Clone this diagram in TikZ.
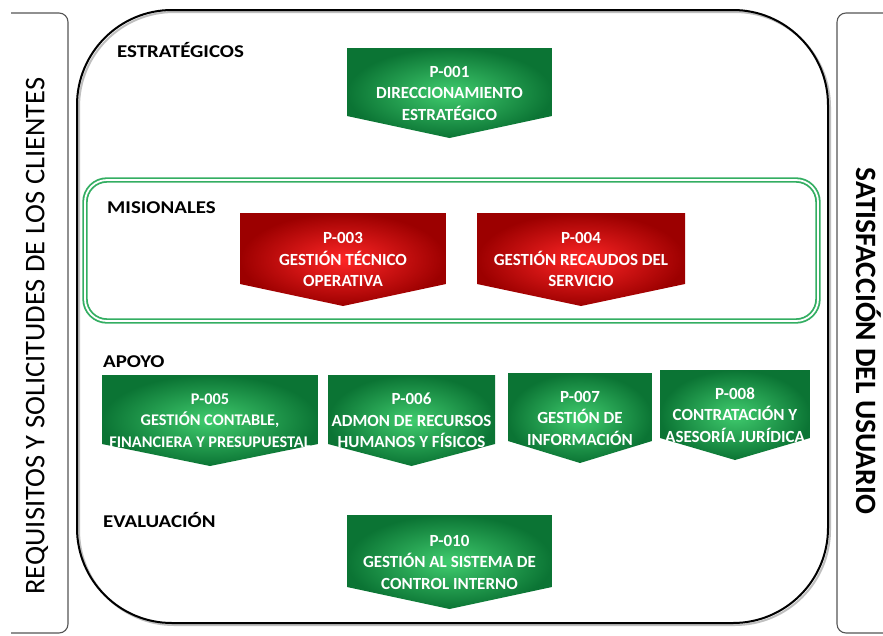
\documentclass[tikz,border=0pt]{standalone}
\usepackage{fontspec}
\setmainfont{Carlito}
\newfontfamily\groupfont[FakeStretch=1.16]{Carlito}
\usetikzlibrary{positioning,calc}
\definecolor{ProcGreen}{HTML}{0B7434}
\definecolor{ProcGreenLt}{HTML}{40CC6E}
\definecolor{ProcRed}{HTML}{9C0000}
\definecolor{ProcRedLt}{HTML}{FF2626}
\definecolor{RingGreen}{HTML}{33AE62}
\definecolor{SideGray}{HTML}{555555}

\tikzset{
  greenfill/.style={inner color=ProcGreenLt,outer color=ProcGreen},
  redfill/.style={inner color=ProcRedLt,outer color=ProcRed},
  procbox/.style={rectangle,inner sep=0pt,text=white,align=center,
    font=\bfseries\fontsize{17}{21.5}\selectfont,
    path picture={\shade[#1] (path picture bounding box.north west)
      -- (path picture bounding box.north east)
      -- ([yshift=22pt]path picture bounding box.south east)
      -- (path picture bounding box.south)
      -- ([yshift=22pt]path picture bounding box.south west) -- cycle;}},
  grouplabel/.style={anchor=west,inner sep=0pt,font=\groupfont\bfseries\fontsize{18}{20}\selectfont},
  sidelabel/.style={inner sep=0pt,font=\fontsize{28.5}{30}\selectfont},
}

\begin{document}
\begin{tikzpicture}[x=1pt,y=-1pt]
  \useasboundingbox[fill=white] (0,0) rectangle (883,635);

  % side frames
  \draw[SideGray,line width=1.1pt,rounded corners=9pt]
    (11,13) -- (68,13) -- (68,633) -- (11,633);
  \draw[SideGray,line width=1.1pt,rounded corners=9pt]
    (895,13) -- (837,13) -- (837,633) -- (895,633);
  \node[sidelabel,rotate=90] (clientes) at (37,336) {REQUISITOS Y SOLICITUDES DE LOS CLIENTES};
  \node[sidelabel,rotate=-90,font=\bfseries\fontsize{29.5}{31}\selectfont] (usuario) at (869,341)
    {SATISFACCIÓN DEL USUARIO};

  % main frame
  \draw[black!25,line width=2pt,rounded corners=95pt] (79,12) rectangle (830,625);
  \draw[black,line width=2pt,rounded corners=95pt] (77,10) rectangle (828,623);

  % misionales ring
  \draw[RingGreen,line width=1.8pt,double=white,double distance=1.8pt,rounded corners=22pt]
    (85,180) rectangle (818,321);

  % group labels
  \node[grouplabel] (estrat) at (117,50) {ESTRATÉGICOS};
  \node[grouplabel] (mision) at (107,208) {MISIONALES};
  \node[grouplabel] (apoyo) at (103,362) {APOYO};
  \node[grouplabel] (evalua) at (103,520) {EVALUACIÓN};

  % processes
  \node[procbox=greenfill,minimum width=205pt,minimum height=90pt] (p001) at (449.5,93)
    {P-001\\DIRECCIONAMIENTO\\ESTRATÉGICO};
  \node[procbox=redfill,minimum width=206pt,minimum height=93pt] (p003) at (343,259.5)
    {P-003\\GESTIÓN TÉCNICO\\OPERATIVA};
  \node[procbox=redfill,minimum width=208pt,minimum height=93pt] (p004) at (581,259.5)
    {P-004\\GESTIÓN RECAUDOS DEL\\SERVICIO};
  \node[procbox=greenfill,minimum width=216pt,minimum height=91pt,
    font=\bfseries\fontsize{16.3}{21.5}\selectfont] (p005) at (210,420.5)
    {P-005\\GESTIÓN CONTABLE,\\FINANCIERA Y PRESUPUESTAL};
  \node[procbox=greenfill,minimum width=167pt,minimum height=91pt] (p006) at (411.5,420.5)
    {P-006\\ADMON DE RECURSOS\\HUMANOS Y FÍSICOS};
  \node[procbox=greenfill,minimum width=144pt,minimum height=90pt] (p007) at (580,418)
    {P-007\\GESTIÓN DE\\INFORMACIÓN};
  \node[procbox=greenfill,minimum width=150pt,minimum height=90pt] (p008) at (735,415)
    {P-008\\CONTRATACIÓN Y\\ASESORÍA JURÍDICA};
  \node[procbox=greenfill,minimum width=205pt,minimum height=94pt] (p010) at (449.5,562)
    {P-010\\GESTIÓN AL SISTEMA DE\\CONTROL INTERNO};
\end{tikzpicture}
\end{document}
